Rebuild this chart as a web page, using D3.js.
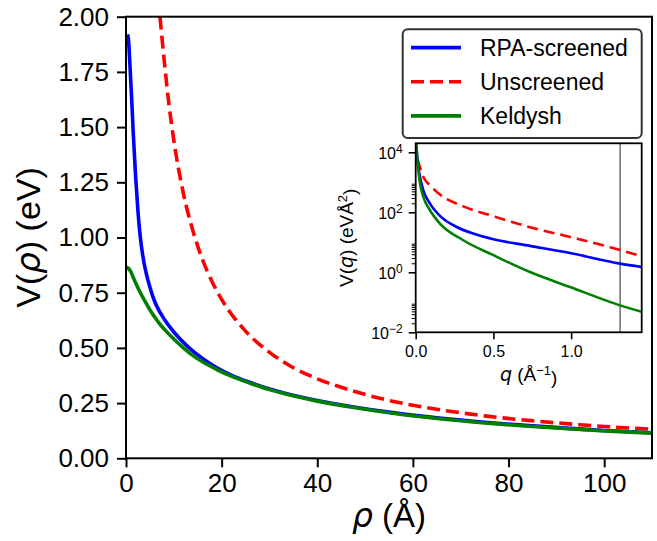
<!DOCTYPE html>
<html>
<head>
<meta charset="utf-8">
<script src="https://cdn.jsdelivr.net/npm/d3@7"></script>
<style>
  body { margin: 0; background: #fff; }
  svg { display: block; font-family: 'Liberation Sans', Arial, Helvetica, sans-serif; }
  .axis path, .axis line { stroke: #000; }
</style>
</head>
<body>
<svg id="chart" width="657" height="541"></svg>
<script>
// main panel: V(rho) in eV, rho in Angstrom
const rhoRPA = [0.35, 0.5, 0.85, 1.2, 1.5, 2.0, 2.5, 3.0, 3.5, 4.0, 5.0, 6.0, 7.0, 8.0, 10, 12, 14, 16, 19, 22, 26, 30, 33, 40, 47, 55, 65, 75, 85, 100, 110];
const vRPA = [1.92, 1.9, 1.77, 1.62, 1.48, 1.28, 1.12, 1.0, 0.92, 0.86, 0.775, 0.71, 0.665, 0.63, 0.572, 0.525, 0.485, 0.452, 0.41, 0.377, 0.343, 0.314, 0.296, 0.262, 0.235, 0.209, 0.183, 0.163, 0.147, 0.126, 0.116];

const rhoUns = [7.1, 8, 9, 10, 12, 14, 16, 18, 20, 25, 30, 35, 40, 47, 55, 65, 75, 85, 95, 100, 110];
const vUns = [2.0, 1.8, 1.6, 1.44, 1.2, 1.03, 0.9, 0.8, 0.72, 0.576, 0.48, 0.41, 0.36, 0.308, 0.262, 0.222, 0.192, 0.170, 0.152, 0.144, 0.132];

const rhoKel = [0, 0.5, 1, 1.5, 2, 3, 4, 5, 6, 7, 8, 10, 12, 14, 16, 19, 22, 26, 30, 33, 40, 47, 55, 65, 75, 85, 100, 110];
const vKel = [0.865, 0.86, 0.845, 0.82, 0.795, 0.75, 0.71, 0.672, 0.64, 0.61, 0.585, 0.54, 0.50, 0.465, 0.437, 0.402, 0.372, 0.34, 0.311, 0.293, 0.259, 0.232, 0.206, 0.180, 0.160, 0.144, 0.124, 0.114];

// inset: V(q) in eV A^2, q in 1/A
const qRPA = [0.002, 0.011, 0.017, 0.028, 0.049, 0.092, 0.156, 0.264, 0.37, 0.5, 0.735, 0.993, 1.315, 1.454];
const vqRPA = [22400, 6900, 3240, 1510, 537, 195, 76, 32.4, 19.5, 12.6, 7.6, 4.37, 1.95, 1.51];

const qUns = [0.013, 0.049, 0.092, 0.156, 0.306, 0.5, 0.735, 0.993, 1.25, 1.454];
const vqUns = [5750, 1510, 794, 389, 158, 74, 32, 15.1, 6.9, 3.4];

const qKel = [0.002, 0.011, 0.017, 0.028, 0.049, 0.092, 0.156, 0.306, 0.5, 0.735, 0.993, 1.315, 1.454];
const vqKel = [22400, 5370, 2510, 912, 324, 117, 41.7, 11.7, 3.72, 1.02, 0.324, 0.079, 0.048];

const qMarker = 1.315;

const rhoTicks = [0, 20, 40, 60, 80, 100];
const vTicks = [0, 0.25, 0.5, 0.75, 1.0, 1.25, 1.5, 1.75, 2.0];
const qTicks = [0, 0.5, 1.0];
const vqTicks = [1e-2, 1e0, 1e2, 1e4];

const seriesNames = ['RPA-screened', 'Unscreened', 'Keldysh'];
const seriesColors = ['#0000ff', '#ff0000', '#008000'];

const svg = d3.select('#chart');

// ---- main axes ----
const x = d3.scaleLinear().domain([0, 110]).range([126, 652]);
const y = d3.scaleLinear().domain([0, 2]).range([458.3, 16.7]);

svg.append('clipPath').attr('id', 'clipMain')
  .append('rect')
  .attr('x', x(0)).attr('y', y(2))
  .attr('width', x(110) - x(0)).attr('height', y(0) - y(2));

const mainLine = d3.line()
  .x((d) => x(d[0]))
  .y((d) => y(d[1]))
  .curve(d3.curveMonotoneX);

const mainData = [
  d3.zip(rhoRPA, vRPA),
  d3.zip(rhoUns, vUns),
  d3.zip(rhoKel, vKel),
];

// Keldysh last so it sits on top, like the reference
const drawOrder = [1, 0, 2];
const mainG = svg.append('g').attr('clip-path', 'url(#clipMain)');
drawOrder.forEach((i) => {
  mainG.append('path')
    .attr('d', mainLine(mainData[i]))
    .attr('fill', 'none')
    .attr('stroke', seriesColors[i])
    .attr('stroke-width', 3.6)
    .attr('stroke-dasharray', i === 1 ? '13,6' : null);
});

const xAxis = svg.append('g')
  .attr('class', 'axis')
  .attr('transform', `translate(0,${y(0)})`)
  .call(d3.axisBottom(x).tickValues(rhoTicks).tickSize(9).tickPadding(6).tickSizeOuter(0));

const yAxis = svg.append('g')
  .attr('class', 'axis')
  .attr('transform', `translate(${x(0)},0)`)
  .call(d3.axisLeft(y).tickValues(vTicks).tickFormat(d3.format('.2f')).tickSize(9).tickPadding(8).tickSizeOuter(0));

[xAxis, yAxis].forEach((a) => {
  a.selectAll('text').attr('font-size', 26).attr('fill', '#000')
    .attr('font-family', "'Liberation Sans', Arial, sans-serif");
  a.selectAll('line').attr('stroke-width', 2);
  a.select('.domain').remove();
});

// frame
svg.append('rect')
  .attr('x', x(0)).attr('y', y(2))
  .attr('width', x(110) - x(0)).attr('height', y(0) - y(2))
  .attr('fill', 'none').attr('stroke', '#000').attr('stroke-width', 2);

// axis labels
const xl = svg.append('text')
  .attr('x', (x(0) + x(110)) / 2).attr('y', 527)
  .attr('text-anchor', 'middle').attr('font-size', 33);
xl.append('tspan').attr('font-family', 'DejaVu Sans').attr('font-style', 'italic').text('ρ');
xl.append('tspan').text(' (Å)');

const yl = svg.append('text')
  .attr('transform', `translate(40,${(y(0) + y(2)) / 2}) rotate(-90)`)
  .attr('text-anchor', 'middle').attr('font-size', 34);
yl.append('tspan').text('V(');
yl.append('tspan').attr('font-family', 'DejaVu Sans').attr('font-style', 'italic').text('ρ');
yl.append('tspan').text(') (eV)');

// ---- legend ----
const lg = svg.append('g');
lg.append('rect')
  .attr('x', 402.7).attr('y', 29.3).attr('width', 239).attr('height', 108.7)
  .attr('rx', 5).attr('fill', '#fff').attr('stroke', '#333').attr('stroke-width', 2);

const legendRow = d3.scaleBand().domain(seriesNames).range([30.5, 133]);
seriesNames.forEach((name, i) => {
  const cy = legendRow(name) + legendRow.bandwidth() / 2;
  lg.append('line')
    .attr('x1', 411).attr('x2', 461).attr('y1', cy).attr('y2', cy)
    .attr('stroke', seriesColors[i]).attr('stroke-width', 3.6)
    .attr('stroke-dasharray', i === 1 ? '13,6' : null);
  lg.append('text')
    .attr('x', 480).attr('y', cy).attr('dy', '0.36em')
    .attr('font-size', 23).text(name);
});

// ---- inset ----
const xi = d3.scaleLinear().domain([0, 1.454]).range([415.7, 641.7]);
const yi = d3.scaleLog().domain([1e-2, Math.pow(10, 4.3)]).range([332.3, 143.3]);

svg.append('rect')
  .attr('x', xi.range()[0]).attr('y', yi.range()[1])
  .attr('width', xi.range()[1] - xi.range()[0]).attr('height', yi.range()[0] - yi.range()[1])
  .attr('fill', '#fff');

svg.append('clipPath').attr('id', 'clipInset')
  .append('rect')
  .attr('x', xi.range()[0]).attr('y', yi.range()[1])
  .attr('width', xi.range()[1] - xi.range()[0]).attr('height', yi.range()[0] - yi.range()[1]);

const insetLine = d3.line()
  .x((d) => xi(d[0]))
  .y((d) => yi(d[1]))
  .curve(d3.curveMonotoneX);

const insetData = [
  d3.zip(qRPA, vqRPA),
  d3.zip(qUns, vqUns),
  d3.zip(qKel, vqKel),
];

const insetG = svg.append('g').attr('clip-path', 'url(#clipInset)');
insetG.append('line')
  .attr('x1', xi(qMarker)).attr('x2', xi(qMarker))
  .attr('y1', yi.range()[0]).attr('y2', yi.range()[1])
  .attr('stroke', '#555').attr('stroke-width', 1.3);

[1, 0, 2].forEach((i) => {
  insetG.append('path')
    .attr('d', insetLine(insetData[i]))
    .attr('fill', 'none')
    .attr('stroke', seriesColors[i])
    .attr('stroke-width', 2.6)
    .attr('stroke-dasharray', i === 1 ? '11,6' : null);
});

const xiAxis = svg.append('g')
  .attr('class', 'axis')
  .attr('transform', `translate(0,${yi.range()[0]})`)
  .call(d3.axisBottom(xi).tickValues(qTicks).tickFormat(d3.format('.1f')).tickSize(7).tickPadding(6).tickSizeOuter(0));

// minor log ticks: 2..9 x 10^even (as in the reference)
const minorTicks = [];
[-2, 0, 2].forEach((e) => {
  d3.range(2, 10).forEach((k) => minorTicks.push(k * Math.pow(10, e)));
});

const yiMinor = svg.append('g')
  .attr('class', 'axis')
  .attr('transform', `translate(${xi.range()[0]},0)`)
  .call(d3.axisLeft(yi).tickValues(minorTicks).tickFormat('').tickSize(4).tickSizeOuter(0));
yiMinor.select('.domain').remove();
yiMinor.selectAll('line').attr('stroke-width', 1);

const yiAxis = svg.append('g')
  .attr('class', 'axis')
  .attr('transform', `translate(${xi.range()[0]},0)`)
  .call(d3.axisLeft(yi).tickValues(vqTicks).tickFormat('').tickSize(7).tickPadding(5).tickSizeOuter(0));

[xiAxis, yiAxis].forEach((a) => {
  a.selectAll('text').attr('font-size', 16).attr('fill', '#000')
    .attr('font-family', "'Liberation Sans', Arial, sans-serif");
  a.selectAll('line').attr('stroke-width', 1.6);
  a.select('.domain').remove();
});

// 10^n labels with superscripts
yiAxis.selectAll('.tick').each(function (d) {
  const t = d3.select(this).append('text')
    .attr('x', -13).attr('dy', '0.4em')
    .attr('text-anchor', 'end').attr('font-size', 16).attr('fill', '#000');
  t.append('tspan').text('10');
  const p = Math.round(Math.log10(d));
  t.append('tspan').attr('dy', '-0.5em').attr('font-size', 12).text(p < 0 ? '−' + (-p) : p);
});

svg.append('rect')
  .attr('x', xi.range()[0]).attr('y', yi.range()[1])
  .attr('width', xi.range()[1] - xi.range()[0]).attr('height', yi.range()[0] - yi.range()[1])
  .attr('fill', 'none').attr('stroke', '#000').attr('stroke-width', 1.8);

const xil = svg.append('text')
  .attr('x', (xi.range()[0] + xi.range()[1]) / 2).attr('y', 381)
  .attr('text-anchor', 'middle').attr('font-size', 19);
xil.append('tspan').attr('font-family', 'DejaVu Sans').attr('font-style', 'italic').text('q');
xil.append('tspan').text(' (Å');
xil.append('tspan').attr('dy', '-0.45em').attr('font-size', 13).text('−1');
xil.append('tspan').attr('dy', '0.45em').text(')');

const yil = svg.append('text')
  .attr('transform', `translate(353,${(yi.range()[0] + yi.range()[1]) / 2}) rotate(-90)`)
  .attr('text-anchor', 'middle').attr('font-size', 19);
yil.append('tspan').text('V(');
yil.append('tspan').attr('font-family', 'DejaVu Sans').attr('font-style', 'italic').text('q');
yil.append('tspan').text(') (eVÅ');
yil.append('tspan').attr('dy', '-0.45em').attr('font-size', 13).text('2');
yil.append('tspan').attr('dy', '0.45em').text(')');
</script>
</body>
</html>
